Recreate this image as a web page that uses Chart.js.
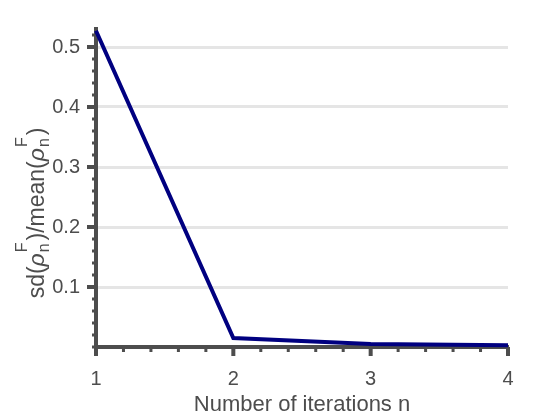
<!DOCTYPE html>
<html>
<head>
<meta charset="utf-8">
<script src="https://cdn.jsdelivr.net/npm/chart.js@4"></script>
<style>
    html, body { margin: 0; padding: 0; background: #fff; }
    #wrap { width: 560px; height: 420px; }
</style>
</head>
<body>
<div id="wrap"><canvas id="chart" width="560" height="420"></canvas></div>
<script>
const iterations = [1, 2, 3, 4];
const relSpread = [0.527, 0.015, 0.005, 0.003];
const xTickLabels = ['1', '2', '3', '4'];
const yTickLabels = ['0.1', '0.2', '0.3', '0.4', '0.5'];

const FONT = '"Liberation Sans", Arial, sans-serif';
const AXIS_COLOR = '#4d4d4d';
const TEXT_COLOR = '#4d4d4d';

function majorLabel(list, value) {
    const hit = list.find(t => Math.abs(parseFloat(t) - value) < 1e-6);
    return hit || '';
}

// minor/major tick marks, MATLAB style
const tickMarks = {
    id: 'tickMarks',
    beforeDatasetsDraw(chart) {
        const ctx = chart.ctx;
        const xs = chart.scales.x;
        const ys = chart.scales.y;
        const area = chart.chartArea;
        ctx.save();
        ctx.fillStyle = AXIS_COLOR;
        xs.ticks.forEach(t => {
            const px = xs.getPixelForValue(t.value);
            const major = majorLabel(xTickLabels, t.value) !== '';
            const len = major ? 9 : 5;
            const w = major ? 4 : 3;
            ctx.fillRect(px - w / 2, area.bottom, w, len);
        });
        ys.ticks.forEach(t => {
            const py = ys.getPixelForValue(t.value);
            const major = majorLabel(yTickLabels, t.value) !== '';
            const len = major ? 9 : 4;
            const h = major ? 4 : 3;
            ctx.fillRect(area.left - len, py - h / 2, len, h);
        });
        ctx.restore();
    }
};

// axis titles, y title needs sub/superscripts
const axisTitles = {
    id: 'axisTitles',
    afterDraw(chart) {
        const ctx = chart.ctx;
        const area = chart.chartArea;
        ctx.save();
        ctx.fillStyle = TEXT_COLOR;
        ctx.textBaseline = 'middle';
        ctx.textAlign = 'center';
        ctx.font = '22px ' + FONT;
        ctx.fillText('Number of iterations n', (area.left + area.right) / 2, 405);

        const size = 23;
        const small = 16;
        const parts = [
            { t: 'sd(' },
            { t: 'ρ', italic: true },
            { sub: 'n', sup: 'F' },
            { t: ')/mean(' },
            { t: 'ρ', italic: true },
            { sub: 'n', sup: 'F' },
            { t: ')' }
        ];
        const widths = parts.map(p => {
            if (p.t) {
                ctx.font = (p.italic ? 'italic ' : '') + size + 'px ' + FONT;
                return ctx.measureText(p.t).width;
            }
            ctx.font = small + 'px ' + FONT;
            return Math.max(ctx.measureText(p.sub).width, ctx.measureText(p.sup).width) + 3;
        });
        const total = widths.reduce((a, b) => a + b, 0);
        ctx.translate(44, 213);
        ctx.rotate(-Math.PI / 2);
        ctx.textAlign = 'left';
        ctx.textBaseline = 'alphabetic';
        let x = -total / 2;
        parts.forEach((p, i) => {
            if (p.t) {
                ctx.font = (p.italic ? 'italic ' : '') + size + 'px ' + FONT;
                ctx.fillText(p.t, x, 0);
            } else {
                ctx.font = small + 'px ' + FONT;
                ctx.fillText(p.sup, x + 1, -17);
                ctx.fillText(p.sub, x + 1, 5);
            }
            x += widths[i];
        });
        ctx.restore();
    }
};

const ctx = document.getElementById('chart').getContext('2d');
new Chart(ctx, {
    type: 'line',
    data: {
        datasets: [{
            data: iterations.map((n, i) => ({ x: n, y: relSpread[i] })),
            borderColor: '#000080',
            borderWidth: 4,
            pointRadius: 0,
            fill: false,
            tension: 0,
            clip: false
        }]
    },
    options: {
        responsive: false,
        animation: false,
        layout: { padding: { top: 29, right: 52, left: 0, bottom: 0 } },
        plugins: {
            legend: { display: false },
            tooltip: { enabled: false }
        },
        scales: {
            x: {
                type: 'linear',
                min: 1,
                max: 4,
                afterFit: scale => { scale.height = 73; },
                grid: { display: false, drawTicks: false },
                border: { display: true, color: AXIS_COLOR, width: 4 },
                ticks: {
                    stepSize: 0.2,
                    autoSkip: false,
                    maxRotation: 0,
                    padding: 20,
                    color: TEXT_COLOR,
                    font: { family: FONT, size: 20 },
                    callback: value => majorLabel(xTickLabels, value)
                }
            },
            y: {
                min: 0,
                max: 0.53,
                afterFit: scale => { scale.width = 96; },
                grid: {
                    drawTicks: false,
                    lineWidth: 3,
                    color: c => majorLabel(yTickLabels, c.tick.value) ? '#e5e5e5' : 'rgba(0,0,0,0)'
                },
                border: { display: true, color: AXIS_COLOR, width: 4 },
                ticks: {
                    stepSize: 0.02,
                    includeBounds: false,
                    autoSkip: false,
                    padding: 16,
                    color: TEXT_COLOR,
                    font: { family: FONT, size: 20 },
                    callback: value => majorLabel(yTickLabels, value)
                }
            }
        }
    },
    plugins: [tickMarks, axisTitles]
});
</script>
</body>
</html>
